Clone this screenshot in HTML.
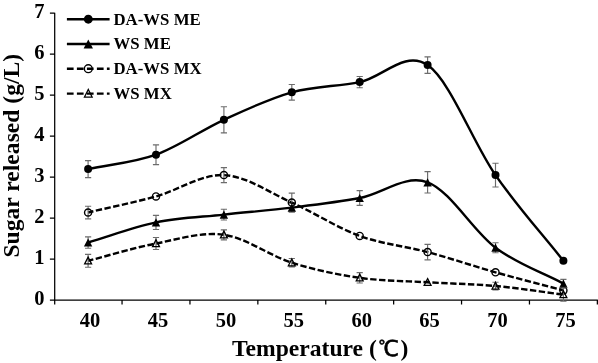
<!DOCTYPE html>
<html lang="en"><head><meta charset="utf-8"><title>Sugar released vs Temperature</title>
<style>
html,body{margin:0;padding:0;background:#fff}
body{width:598px;height:363px;overflow:hidden}
svg{display:block}
text{font-family:"Liberation Serif","Noto Sans CJK SC",serif;font-weight:bold;fill:#000}
.lg{font-size:16.8px}
.tk{font-size:20.5px}
.tt{font-size:23.6px}
.cj{font-family:"WenQuanYi Zen Hei","Noto Sans CJK SC",sans-serif;font-weight:normal;font-size:22px;stroke:#000;stroke-width:0.55px}
</style></head><body>
<svg width="598" height="363" viewBox="0 0 598 363">
<rect width="598" height="363" fill="#fff"/>
<path d="M54.70 12.70 V300.50 M54.20 300.00 H597.85 M49.90 300.00 H54.70 M49.90 259.03 H54.70 M49.90 218.06 H54.70 M49.90 177.09 H54.70 M49.90 136.11 H54.70 M49.90 95.14 H54.70 M49.90 54.17 H54.70 M49.90 13.20 H54.70 M54.70 300.00 V304.60 M122.05 300.00 V304.60 M189.95 300.00 V304.60 M257.85 300.00 V304.60 M325.75 300.00 V304.60 M393.65 300.00 V304.60 M461.55 300.00 V304.60 M529.45 300.00 V304.60 M597.35 300.00 V304.60" fill="none" stroke="#000" stroke-width="1.25"/>
<path d="M88.10 169.10 C110.73 164.30 133.37 162.92 156.00 154.70 C178.63 146.48 201.27 130.20 223.90 119.80 C246.53 109.40 269.17 98.58 291.80 92.30 C314.43 86.02 337.07 86.63 359.70 82.10 C382.33 77.57 404.97 49.60 427.60 65.10 C450.23 80.60 472.87 142.48 495.50 175.10 C518.13 207.72 540.77 232.23 563.40 260.80" fill="none" stroke="#000" stroke-width="2.4"/>
<path d="M88.10 160.60 V177.60 M85.00 160.60 h6.2 M85.00 177.60 h6.2 M156.00 144.80 V164.60 M152.90 144.80 h6.2 M152.90 164.60 h6.2 M223.90 106.70 V132.90 M220.80 106.70 h6.2 M220.80 132.90 h6.2 M291.80 84.50 V100.10 M288.70 84.50 h6.2 M288.70 100.10 h6.2 M359.70 76.50 V87.70 M356.60 76.50 h6.2 M356.60 87.70 h6.2 M427.60 56.90 V73.30 M424.50 56.90 h6.2 M424.50 73.30 h6.2 M495.50 163.20 V187.00 M492.40 163.20 h6.2 M492.40 187.00 h6.2" fill="none" stroke="#6c6c6c" stroke-width="1.15"/>
<circle cx="88.10" cy="169.10" r="4.00" fill="#000"/>
<circle cx="156.00" cy="154.70" r="4.00" fill="#000"/>
<circle cx="223.90" cy="119.80" r="4.00" fill="#000"/>
<circle cx="291.80" cy="92.30" r="4.00" fill="#000"/>
<circle cx="359.70" cy="82.10" r="4.00" fill="#000"/>
<circle cx="427.60" cy="65.10" r="4.00" fill="#000"/>
<circle cx="495.50" cy="175.10" r="4.00" fill="#000"/>
<circle cx="563.40" cy="260.80" r="4.00" fill="#000"/>
<path d="M88.10 242.50 C110.73 235.80 133.37 227.05 156.00 222.40 C178.63 217.75 201.27 217.07 223.90 214.60 C246.53 212.13 269.17 210.37 291.80 207.60 C314.43 204.83 337.07 202.22 359.70 198.00 C382.33 193.78 404.97 174.02 427.60 182.30 C450.23 190.58 472.87 230.82 495.50 247.70 C518.13 264.58 540.77 271.63 563.40 283.60" fill="none" stroke="#000" stroke-width="2.4"/>
<path d="M88.10 236.80 V248.20 M85.00 236.80 h6.2 M85.00 248.20 h6.2 M156.00 215.30 V229.50 M152.90 215.30 h6.2 M152.90 229.50 h6.2 M223.90 209.20 V220.00 M220.80 209.20 h6.2 M220.80 220.00 h6.2 M291.80 203.10 V212.10 M288.70 203.10 h6.2 M288.70 212.10 h6.2 M359.70 190.60 V205.40 M356.60 190.60 h6.2 M356.60 205.40 h6.2 M427.60 171.60 V193.00 M424.50 171.60 h6.2 M424.50 193.00 h6.2 M495.50 242.70 V252.70 M492.40 242.70 h6.2 M492.40 252.70 h6.2 M563.40 279.30 V287.90 M560.30 279.30 h6.2 M560.30 287.90 h6.2" fill="none" stroke="#6c6c6c" stroke-width="1.15"/>
<path d="M88.10 238.40 l4.20 8.20 h-8.40z" fill="#000"/>
<path d="M156.00 218.30 l4.20 8.20 h-8.40z" fill="#000"/>
<path d="M223.90 210.50 l4.20 8.20 h-8.40z" fill="#000"/>
<path d="M291.80 203.50 l4.20 8.20 h-8.40z" fill="#000"/>
<path d="M359.70 193.90 l4.20 8.20 h-8.40z" fill="#000"/>
<path d="M427.60 178.20 l4.20 8.20 h-8.40z" fill="#000"/>
<path d="M495.50 243.60 l4.20 8.20 h-8.40z" fill="#000"/>
<path d="M563.40 279.50 l4.20 8.20 h-8.40z" fill="#000"/>
<path d="M88.10 212.50 C110.73 207.13 133.37 202.63 156.00 196.40 C178.63 190.17 201.27 174.07 223.90 175.10 C246.53 176.13 269.17 192.47 291.80 202.60 C314.43 212.73 337.07 227.65 359.70 235.90 C382.33 244.15 404.97 246.03 427.60 252.10 C450.23 258.17 472.87 265.92 495.50 272.30 C518.13 278.68 540.77 284.37 563.40 290.40" fill="none" stroke="#000" stroke-width="2.4" stroke-dasharray="6.4 2.5" stroke-dashoffset="1"/>
<path d="M88.10 206.20 V218.80 M85.00 206.20 h6.2 M85.00 218.80 h6.2 M223.90 167.60 V182.60 M220.80 167.60 h6.2 M220.80 182.60 h6.2 M291.80 193.10 V202.60 M288.70 193.10 h6.2 M427.60 244.40 V259.80 M424.50 244.40 h6.2 M424.50 259.80 h6.2 M563.40 287.40 V293.40 M560.30 287.40 h6.2 M560.30 293.40 h6.2" fill="none" stroke="#6c6c6c" stroke-width="1.15"/>
<circle cx="88.10" cy="212.50" r="3.55" fill="none" stroke="#000" stroke-width="1.4"/>
<circle cx="156.00" cy="196.40" r="3.55" fill="none" stroke="#000" stroke-width="1.4"/>
<circle cx="223.90" cy="175.10" r="3.55" fill="none" stroke="#000" stroke-width="1.4"/>
<circle cx="291.80" cy="202.60" r="3.55" fill="none" stroke="#000" stroke-width="1.4"/>
<circle cx="359.70" cy="235.90" r="3.55" fill="none" stroke="#000" stroke-width="1.4"/>
<circle cx="427.60" cy="252.10" r="3.55" fill="none" stroke="#000" stroke-width="1.4"/>
<circle cx="495.50" cy="272.30" r="3.55" fill="none" stroke="#000" stroke-width="1.4"/>
<circle cx="563.40" cy="290.40" r="3.55" fill="none" stroke="#000" stroke-width="1.4"/>
<path d="M88.10 260.80 C110.73 255.03 133.37 247.83 156.00 243.50 C178.63 239.17 201.27 231.60 223.90 234.80 C246.53 238.00 269.17 255.53 291.80 262.70 C314.43 269.87 337.07 274.53 359.70 277.80 C382.33 281.07 404.97 280.93 427.60 282.30 C450.23 283.67 472.87 283.95 495.50 286.00 C518.13 288.05 540.77 291.73 563.40 294.60" fill="none" stroke="#000" stroke-width="2.4" stroke-dasharray="6.4 2.5" stroke-dashoffset="1"/>
<path d="M88.10 254.40 V267.20 M85.00 254.40 h6.2 M85.00 267.20 h6.2 M156.00 237.50 V249.50 M152.90 237.50 h6.2 M152.90 249.50 h6.2 M223.90 229.80 V239.80 M220.80 229.80 h6.2 M220.80 239.80 h6.2 M291.80 258.50 V266.90 M288.70 258.50 h6.2 M288.70 266.90 h6.2 M359.70 272.60 V283.00 M356.60 272.60 h6.2 M356.60 283.00 h6.2 M495.50 282.20 V289.80 M492.40 282.20 h6.2 M492.40 289.80 h6.2 M563.40 288.00 V301.20 M560.30 288.00 h6.2 M560.30 301.20 h6.2" fill="none" stroke="#6c6c6c" stroke-width="1.15"/>
<path d="M88.10 257.10 l3.45 6.80 h-6.90z" fill="none" stroke="#000" stroke-width="1.3"/>
<path d="M156.00 239.80 l3.45 6.80 h-6.90z" fill="none" stroke="#000" stroke-width="1.3"/>
<path d="M223.90 231.10 l3.45 6.80 h-6.90z" fill="none" stroke="#000" stroke-width="1.3"/>
<path d="M291.80 259.00 l3.45 6.80 h-6.90z" fill="none" stroke="#000" stroke-width="1.3"/>
<path d="M359.70 274.10 l3.45 6.80 h-6.90z" fill="none" stroke="#000" stroke-width="1.3"/>
<path d="M427.60 278.60 l3.45 6.80 h-6.90z" fill="none" stroke="#000" stroke-width="1.3"/>
<path d="M495.50 282.30 l3.45 6.80 h-6.90z" fill="none" stroke="#000" stroke-width="1.3"/>
<path d="M563.40 290.90 l3.45 6.80 h-6.90z" fill="none" stroke="#000" stroke-width="1.3"/>
<path d="M66.90 19.20 H109.60" fill="none" stroke="#000" stroke-width="2.4"/>
<circle cx="88.30" cy="19.20" r="4.44" fill="#000"/>
<text x="113.5" y="24.50" class="lg">DA-WS ME</text>
<path d="M66.90 44.00 H109.60" fill="none" stroke="#000" stroke-width="2.4"/>
<path d="M88.30 39.45 l4.66 9.10 h-9.32z" fill="#000"/>
<text x="113.5" y="49.30" class="lg">WS ME</text>
<path d="M66.90 68.70 H109.60" fill="none" stroke="#000" stroke-width="2.4" stroke-dasharray="6.7 3.3"/>
<circle cx="88.30" cy="68.70" r="3.94" fill="none" stroke="#000" stroke-width="1.4"/>
<text x="113.5" y="73.50" class="lg">DA-WS MX</text>
<path d="M66.90 93.60 H109.60" fill="none" stroke="#000" stroke-width="2.4" stroke-dasharray="6.7 3.3"/>
<path d="M88.30 89.49 l3.83 7.55 h-7.66z" fill="none" stroke="#000" stroke-width="1.3"/>
<text x="113.5" y="98.50" class="lg">WS MX</text>
<text x="44.6" y="305.00" class="tk" text-anchor="end">0</text>
<text x="44.6" y="264.03" class="tk" text-anchor="end">1</text>
<text x="44.6" y="223.06" class="tk" text-anchor="end">2</text>
<text x="44.6" y="182.09" class="tk" text-anchor="end">3</text>
<text x="44.6" y="141.11" class="tk" text-anchor="end">4</text>
<text x="44.6" y="100.14" class="tk" text-anchor="end">5</text>
<text x="44.6" y="59.17" class="tk" text-anchor="end">6</text>
<text x="44.6" y="18.20" class="tk" text-anchor="end">7</text>
<text x="90.10" y="327" class="tk" text-anchor="middle">40</text>
<text x="158.00" y="327" class="tk" text-anchor="middle">45</text>
<text x="225.90" y="327" class="tk" text-anchor="middle">50</text>
<text x="293.80" y="327" class="tk" text-anchor="middle">55</text>
<text x="361.70" y="327" class="tk" text-anchor="middle">60</text>
<text x="429.60" y="327" class="tk" text-anchor="middle">65</text>
<text x="497.50" y="327" class="tk" text-anchor="middle">70</text>
<text x="565.40" y="327" class="tk" text-anchor="middle">75</text>
<text x="232.0" y="355.9" class="tt">Temperature (<tspan x="378.4" y="356.0" class="cj">℃</tspan><tspan x="400.5" y="355.9">)</tspan></text>
<text transform="translate(19.1 155.7) rotate(-90)" class="tt" text-anchor="middle">Sugar released (g/L)</text>
</svg>
</body></html>
